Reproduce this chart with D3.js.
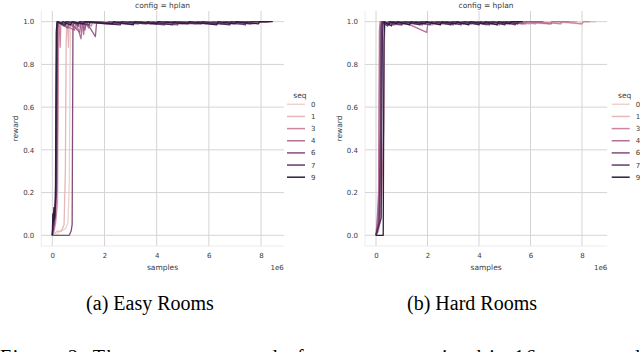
<!DOCTYPE html>
<html>
<head>
<meta charset="utf-8">
<script src="https://cdn.jsdelivr.net/npm/d3@7"></script>
<style>
body{margin:0;background:#fff;}
svg{display:block;}
</style>
</head>
<body>
<svg id="chart" width="640" height="352"></svg>
<script>
// samples are in units of 1e6, reward 0..1
const xTicks=[0,2,4,6,8];
const yTicks=[0,0.2,0.4,0.6,0.8,1.0];
const legendSeq=[0,1,3,4,6,7,9];
const captions=["(a) Easy Rooms","(b) Hard Rooms"];

// easy rooms runs
const easy0=[[0,0],[0.15,0],[0.3,0.02],[0.5,0.03],[0.6,0.06],[0.65,0.25],[0.68,0.8],[0.7,0.97],[0.73,1],[1.0,0.98],[1.05,1],[1.6,0.99],[1.65,1],[3.2,0.99],[3.25,1],[4.9,0.99],[4.95,1],[6.4,0.99],[6.45,1],[8.45,1]];
const easy1=[[0,0],[0.1,0.01],[0.2,0.02],[0.35,0.02],[0.45,0.05],[0.5,0.3],[0.53,0.9],[0.55,0.98],[0.58,1],[0.62,0.88],[0.65,1],[0.9,0.97],[0.95,1],[2.0,0.99],[2.05,1],[3.5,0.99],[3.55,1],[5.1,0.99],[5.15,1],[6.7,0.99],[6.75,1],[8.0,1]];
const easy2=[[0,0],[0.07,0.02],[0.13,0.06],[0.2,0.15],[0.24,0.96],[0.27,1],[0.7,0.98],[0.75,1],[1.15,0.97],[1.2,1],[2.4,0.99],[2.45,1],[3.9,0.99],[3.95,1],[5.3,0.99],[5.35,1],[6.9,0.99],[6.95,1],[8.3,1]];
const easy3=[[0,0],[0.08,0.04],[0.14,0.1],[0.2,0.5],[0.23,0.98],[0.26,1],[0.3,0.88],[0.33,1],[0.95,0.97],[1.0,1],[1.5,0.98],[1.55,1],[2.8,0.99],[2.85,1],[4.2,0.99],[4.25,1],[5.6,0.99],[5.65,1],[7.1,0.99],[7.15,1],[8.15,1]];
const easy4=[[0,0],[0.06,0.03],[0.12,0.08],[0.17,0.25],[0.2,0.97],[0.23,1],[0.85,0.96],[0.9,1],[1.1,0.92],[1.15,1],[1.2,0.94],[1.24,1],[1.4,0.97],[1.45,1],[3.0,0.99],[3.05,1],[4.5,0.99],[4.55,1],[5.9,0.99],[5.95,1],[7.7,0.99],[7.75,1],[8.25,1]];
const easy5=[[0,0],[0.05,0.04],[0.1,0.1],[0.14,0.2],[0.17,0.95],[0.2,1],[0.6,0.97],[0.65,1],[1.05,0.95],[1.1,1],[1.25,0.96],[1.3,1],[1.65,0.93],[1.7,1],[2.5,0.99],[2.55,1],[3.8,0.99],[3.85,1],[5.0,0.99],[5.05,1],[6.5,0.99],[6.55,1],[8.1,1]];
const easy6=[[0,0],[0.3,0],[0.65,0],[0.72,0.02],[0.76,0.05],[0.79,0.96],[0.82,1],[1.0,0.98],[1.05,1],[1.3,0.985],[1.35,1],[2.1,0.99],[2.15,1],[3.3,0.99],[3.35,1],[4.8,0.985],[4.85,1],[6.1,0.99],[6.15,1],[7.2,0.99],[7.25,1],[8.2,1]];
const easy7=[[0,0],[0.03,0.08],[0.06,0.05],[0.1,0.12],[0.16,0.2],[0.19,0.96],[0.22,1],[0.45,0.98],[0.5,1],[1.4,0.985],[1.45,1],[2.9,0.99],[2.95,1],[4.3,0.985],[4.35,1],[5.5,0.99],[5.55,1],[6.6,0.99],[6.65,1],[7.4,0.985],[7.45,1],[8.35,1]];
const easy8=[[0,0],[0.03,0.05],[0.05,0.11],[0.08,0.07],[0.11,0.14],[0.14,0.3],[0.17,0.97],[0.2,1],[0.5,0.985],[0.55,1],[1.0,0.99],[1.05,1],[2.6,0.985],[2.65,1],[3.6,0.99],[3.65,1],[4.6,0.985],[4.65,1],[5.7,0.99],[5.75,1],[6.8,0.985],[6.85,1],[7.6,0.99],[7.65,1],[8.3,1]];
const easy9=[[0,0],[0.02,0.1],[0.04,0.06],[0.06,0.13],[0.09,0.08],[0.12,0.18],[0.15,0.95],[0.18,1],[0.35,0.99],[0.4,1],[0.7,0.985],[0.75,1],[1.2,0.99],[1.25,1],[2.3,0.99],[2.35,1],[3.1,0.985],[3.15,1],[4.0,0.99],[4.05,1],[5.2,0.99],[5.25,1],[6.3,0.985],[6.35,1],[7.0,0.99],[7.05,1],[7.9,0.99],[7.95,1],[8.45,1]];

// hard rooms runs
const hard0=[[0,0],[0.08,0.03],[0.15,0.12],[0.2,0.6],[0.22,0.97],[0.25,1],[1.2,0.99],[1.25,1],[2.9,0.99],[2.95,1],[4.6,0.99],[4.65,1],[6.6,0.99],[6.65,1],[7.9,0.99],[7.95,1],[8.5,1]];
const hard1=[[0,0],[0.05,0.02],[0.09,0.1],[0.12,0.15],[0.16,0.3],[0.19,0.97],[0.22,1],[0.65,0.985],[0.7,1],[2.0,0.99],[2.05,1],[3.6,0.99],[3.65,1],[5.5,0.99],[5.55,1],[6.75,0.99],[6.8,1],[7.2,0.99],[7.25,1],[8.0,0.99],[8.05,1],[8.55,1]];
const hard2=[[0,0],[0.1,0.02],[0.2,0.1],[0.3,0.5],[0.33,0.93],[0.36,1],[0.75,0.985],[0.8,1],[1.7,0.99],[1.75,1],[3.0,0.99],[3.05,1],[4.4,0.99],[4.45,1],[6.0,0.99],[6.05,1],[6.75,0.99],[6.8,1],[7.8,1]];
const hard3=[[0,0],[0.05,0.05],[0.1,0.15],[0.13,0.96],[0.16,1],[0.55,0.985],[0.6,1],[1.4,0.99],[1.45,1],[2.2,0.985],[2.25,1],[3.2,0.99],[3.25,1],[4.1,0.99],[4.15,1],[5.3,0.99],[5.35,1],[6.2,0.99],[6.25,1],[7.15,0.99],[7.2,1],[8.0,0.99],[8.05,1],[8.3,1]];
const hard4=[[0,0],[0.06,0.1],[0.1,0.2],[0.15,0.95],[0.18,1],[0.4,0.985],[0.45,1],[1.0,0.985],[1.05,1],[1.97,0.95],[2.02,1],[2.8,0.99],[2.85,1],[3.8,0.99],[3.85,1],[4.8,0.985],[4.85,1],[5.8,0.99],[5.85,1],[6.8,0.99],[6.85,1],[7.5,1]];
const hard5=[[0,0],[0.08,0.05],[0.16,0.3],[0.2,0.98],[0.23,1],[0.9,0.985],[0.95,1],[1.6,0.99],[1.65,1],[2.6,0.99],[2.65,1],[3.5,0.99],[3.55,1],[4.6,0.99],[4.65,1],[5.7,0.99],[5.75,1],[6.5,1]];
const hard6=[[0,0],[0.06,0.02],[0.15,0.1],[0.22,0.96],[0.25,1],[0.7,0.985],[0.75,1],[1.2,0.99],[1.25,1],[1.8,0.985],[1.85,1],[2.4,0.99],[2.45,1],[3.0,0.985],[3.05,1],[3.7,0.99],[3.75,1],[4.3,0.985],[4.35,1],[5.1,0.99],[5.15,1],[5.6,1]];
const hard7=[[0,0],[0.05,0.03],[0.12,0.06],[0.18,0.5],[0.2,0.97],[0.23,1],[0.45,0.98],[0.5,1],[1.0,0.985],[1.05,1],[1.5,0.99],[1.55,1],[2.1,0.985],[2.15,1],[2.7,0.99],[2.75,1],[3.3,0.985],[3.35,1],[3.9,0.99],[3.95,1],[4.4,0.985],[4.45,1],[4.9,0.99],[4.95,1],[5.4,0.985],[5.45,1],[5.7,1]];
const hard8=[[0,0],[0.04,0.02],[0.1,0.04],[0.2,0.08],[0.25,0.95],[0.28,1],[0.6,0.98],[0.65,1],[1.1,0.99],[1.15,1],[1.7,0.985],[1.75,1],[2.3,0.99],[2.35,1],[2.9,0.985],[2.95,1],[3.4,0.99],[3.45,1],[4.0,0.985],[4.05,1],[4.5,0.99],[4.55,1],[5.0,0.985],[5.05,1],[5.5,0.99],[5.55,1],[5.65,1]];
const hard9=[[0,0],[0.05,0],[0.15,0],[0.28,0],[0.31,0.9],[0.33,1],[0.5,0.985],[0.55,1],[0.8,0.99],[0.85,1],[1.3,0.985],[1.35,1],[1.9,0.99],[1.95,1],[2.5,0.985],[2.55,1],[3.1,0.99],[3.15,1],[3.6,0.985],[3.65,1],[4.2,0.99],[4.25,1],[4.7,0.985],[4.75,1],[5.2,0.99],[5.25,1],[5.7,1]];

const easyRuns=[easy0,easy1,easy2,easy3,easy4,easy5,easy6,easy7,easy8,easy9];
const hardRuns=[hard0,hard1,hard2,hard3,hard4,hard5,hard6,hard7,hard8,hard9];

// seaborn default cubehelix (light -> dark)
function seqColor(t){
  let l=0.85-0.7*t;
  let phi=2*Math.PI*(0.4*l);
  let a=0.8*l*(1-l)/2;
  let c=Math.cos(phi), s=Math.sin(phi);
  let r=l+a*(-0.14861*c+1.78277*s);
  let g=l+a*(-0.29227*c-0.90649*s);
  let b=l+a*(1.97294*c);
  let cl=v=>Math.round(Math.max(0,Math.min(1,v))*255);
  return d3.rgb(cl(r),cl(g),cl(b)).formatHex();
}
const hue=d3.scaleLinear().domain([0,9]).range([0,1]);

const svg=d3.select("#chart");
const font="DejaVu Sans, sans-serif";
const txt="#3a3a3a";

function panel(runs,x0,x1,legX,caption){
  const top=11,bottom=246;
  let allX=runs.flat().map(d=>d[0]);
  let xmax=d3.max(allX), xmin=d3.min(allX);
  let pad=(xmax-xmin)*0.05;
  let x=d3.scaleLinear().domain([xmin-pad,xmax+pad]).range([x0,x1]);
  let y=d3.scaleLinear().domain([-0.05,1.05]).range([bottom,top]);
  let g=svg.append("g");

  // spines (very light)
  g.append("line").attr("x1",x0).attr("x2",x0).attr("y1",top).attr("y2",bottom).attr("stroke","#ececec");
  g.append("line").attr("x1",x0).attr("x2",x1).attr("y1",bottom).attr("y2",bottom).attr("stroke","#ececec");

  // grid
  g.selectAll(".gx").data(xTicks).enter().append("line")
    .attr("x1",d=>x(d)).attr("x2",d=>x(d)).attr("y1",top).attr("y2",bottom)
    .attr("stroke","#d4d4d4").attr("stroke-width",1);
  g.selectAll(".gy").data(yTicks).enter().append("line")
    .attr("x1",x0).attr("x2",x1).attr("y1",d=>y(d)).attr("y2",d=>y(d))
    .attr("stroke","#d4d4d4").attr("stroke-width",1);

  // axes
  let ax=g.append("g").attr("transform","translate(0,"+bottom+")")
    .call(d3.axisBottom(x).tickValues(xTicks).tickSize(0).tickPadding(7).tickFormat(d3.format("d")));
  let ay=g.append("g").attr("transform","translate("+x0+",0)")
    .call(d3.axisLeft(y).tickValues(yTicks).tickSize(0).tickPadding(7).tickFormat(d3.format(".1f")));
  [ax,ay].forEach(a=>{
    a.select(".domain").remove();
    a.selectAll("text").attr("font-family",font).attr("font-size",7).attr("fill",txt);
  });

  // lines
  let line=d3.line().x(d=>x(d[0])).y(d=>y(d[1]));
  runs.forEach((r,i)=>{
    g.append("path").datum(r).attr("d",line)
      .attr("fill","none").attr("stroke",seqColor(hue(i)))
      .attr("stroke-width",1.3).attr("stroke-linejoin","round");
  });

  // labels
  let cx=(x0+x1)/2;
  g.append("text").attr("x",cx).attr("y",7.5).attr("text-anchor","middle")
    .attr("font-family",font).attr("font-size",7.5).attr("fill",txt).text("config = hplan");
  g.append("text").attr("x",cx).attr("y",269.5).attr("text-anchor","middle")
    .attr("font-family",font).attr("font-size",7.5).attr("fill",txt).text("samples");
  g.append("text").attr("x",x1).attr("y",269.5).attr("text-anchor","end")
    .attr("font-family",font).attr("font-size",7).attr("fill",txt).text("1e6");
  g.append("text").attr("transform","translate("+(x0-23.5)+","+((top+bottom)/2)+") rotate(-90)")
    .attr("text-anchor","middle").attr("font-family",font).attr("font-size",7.5).attr("fill",txt).text("reward");

  // legend
  let lg=g.append("g");
  lg.append("text").attr("x",legX+13).attr("y",97.5).attr("text-anchor","middle")
    .attr("font-family",font).attr("font-size",7.5).attr("fill",txt).text("seq");
  legendSeq.forEach((s,i)=>{
    let yy=104.3+i*12.15;
    lg.append("line").attr("x1",legX).attr("x2",legX+18).attr("y1",yy).attr("y2",yy)
      .attr("stroke",seqColor(hue(s))).attr("stroke-width",1.5);
    lg.append("text").attr("x",legX+24).attr("y",yy+2.5)
      .attr("font-family",font).attr("font-size",7).attr("fill",txt).text(s);
  });

  // subfigure caption
  svg.append("text").attr("x",caption.x).attr("y",310).attr("text-anchor","middle")
    .attr("font-family","Liberation Serif, Times New Roman, serif").attr("font-size",20)
    .attr("fill","#000").text(caption.t);
}

panel(easyRuns,41.3,283.8,287,{x:150,t:captions[0]});
panel(hardRuns,365,607.2,611.7,{x:472,t:captions[1]});

svg.append("text").attr("x",0).attr("y",364)
  .attr("font-family","Liberation Serif, Times New Roman, serif").attr("font-size",20)
  .attr("fill","#000").attr("textLength",640).attr("lengthAdjust","spacing")
  .text("Figure 2: The average reward of our agents trained in 16 rooms and");
</script>
</body>
</html>
